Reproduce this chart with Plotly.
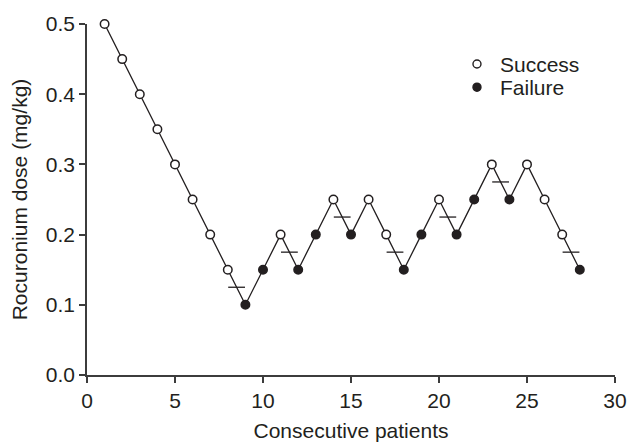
import plotly.graph_objects as go

patients = list(range(1, 29))
dose = [0.50, 0.45, 0.40, 0.35, 0.30, 0.25, 0.20, 0.15, 0.10, 0.15,
        0.20, 0.15, 0.20, 0.25, 0.20, 0.25, 0.20, 0.15, 0.20, 0.25,
        0.20, 0.25, 0.30, 0.25, 0.30, 0.25, 0.20, 0.15]
outcome = ["S", "S", "S", "S", "S", "S", "S", "S", "F", "F",
           "S", "F", "F", "S", "F", "S", "S", "F", "F", "S",
           "F", "F", "S", "F", "S", "S", "S", "F"]
x_ticks = [0, 5, 10, 15, 20, 25, 30]
y_ticks = [0.0, 0.1, 0.2, 0.3, 0.4, 0.5]
legend_labels = ["Success", "Failure"]

# crossover midpoints (success followed by failure)
mid_x, mid_y = [], []
for i in range(len(patients) - 1):
    if outcome[i] == "S" and outcome[i + 1] == "F":
        mid_x.append((patients[i] + patients[i + 1]) / 2)
        mid_y.append((dose[i] + dose[i + 1]) / 2)

sx = [p for p, o in zip(patients, outcome) if o == "S"]
sy = [d for d, o in zip(dose, outcome) if o == "S"]
fx = [p for p, o in zip(patients, outcome) if o == "F"]
fy = [d for d, o in zip(dose, outcome) if o == "F"]

FONT = "Liberation Sans, Arial, sans-serif"
INK = "#231f20"
AX = "#3c3c3c"

fig = go.Figure()
fig.add_trace(go.Scatter(x=patients, y=dose, mode="lines",
                         line=dict(color=INK, width=1.3), showlegend=False,
                         cliponaxis=False, hoverinfo="skip"))
fig.add_trace(go.Scatter(x=mid_x, y=mid_y, mode="markers",
                         marker=dict(symbol="line-ew", size=12,
                                     line=dict(color=INK, width=1.3)),
                         showlegend=False))
fig.add_trace(go.Scatter(x=sx, y=sy, mode="markers", showlegend=False,
                         name=legend_labels[0], cliponaxis=False,
                         marker=dict(symbol="circle", size=8.5, color="white",
                                     line=dict(color=INK, width=1.5))))
fig.add_trace(go.Scatter(x=fx, y=fy, mode="markers", showlegend=False,
                         name=legend_labels[1], cliponaxis=False,
                         marker=dict(symbol="circle", size=8.5, color=INK,
                                     line=dict(color=INK, width=1.5))))

# manual legend (symbols + labels) in paper coordinates
leg_x_sym, leg_x_txt = 0.7386, 0.7780
leg_y = [0.886, 0.820]
fills = ["white", INK]
for lab, yy, fc in zip(legend_labels, leg_y, fills):
    fig.add_shape(type="circle", xref="paper", yref="paper",
                  xsizemode="pixel", ysizemode="pixel",
                  xanchor=leg_x_sym, yanchor=yy,
                  x0=-4, x1=4, y0=-4, y1=4,
                  fillcolor=fc, line=dict(color=INK, width=1.4))
    fig.add_annotation(x=leg_x_txt, y=yy, xref="paper", yref="paper",
                       text=lab, showarrow=False, xanchor="left",
                       yanchor="middle",
                       font=dict(family=FONT, size=21, color=INK))

axis_common = dict(showgrid=False, zeroline=False, showline=True,
                   linecolor=AX, linewidth=1.6, ticks="outside",
                   ticklen=6, tickwidth=1.5, tickcolor=AX,
                   tickfont=dict(family=FONT, size=21, color=INK),
                   mirror=False, automargin=False)

fig.update_layout(
    width=637, height=443,
    margin=dict(l=79, r=30, t=16, b=76),
    paper_bgcolor="white", plot_bgcolor="white",
    font=dict(family=FONT, color=INK),
    xaxis=dict(range=[0, 30], tickvals=x_ticks,
               title=dict(text="Consecutive patients",
                          font=dict(family=FONT, size=21, color=INK),
                          standoff=12),
               **axis_common),
    yaxis=dict(range=[0, 0.5], tickvals=y_ticks,
               tickformat=".1f",
               title=dict(text="Rocuronium dose (mg/kg)",
                          font=dict(family=FONT, size=21, color=INK),
                          standoff=14),
               **axis_common),
    showlegend=False,
)

fig.write_html("out.html")
